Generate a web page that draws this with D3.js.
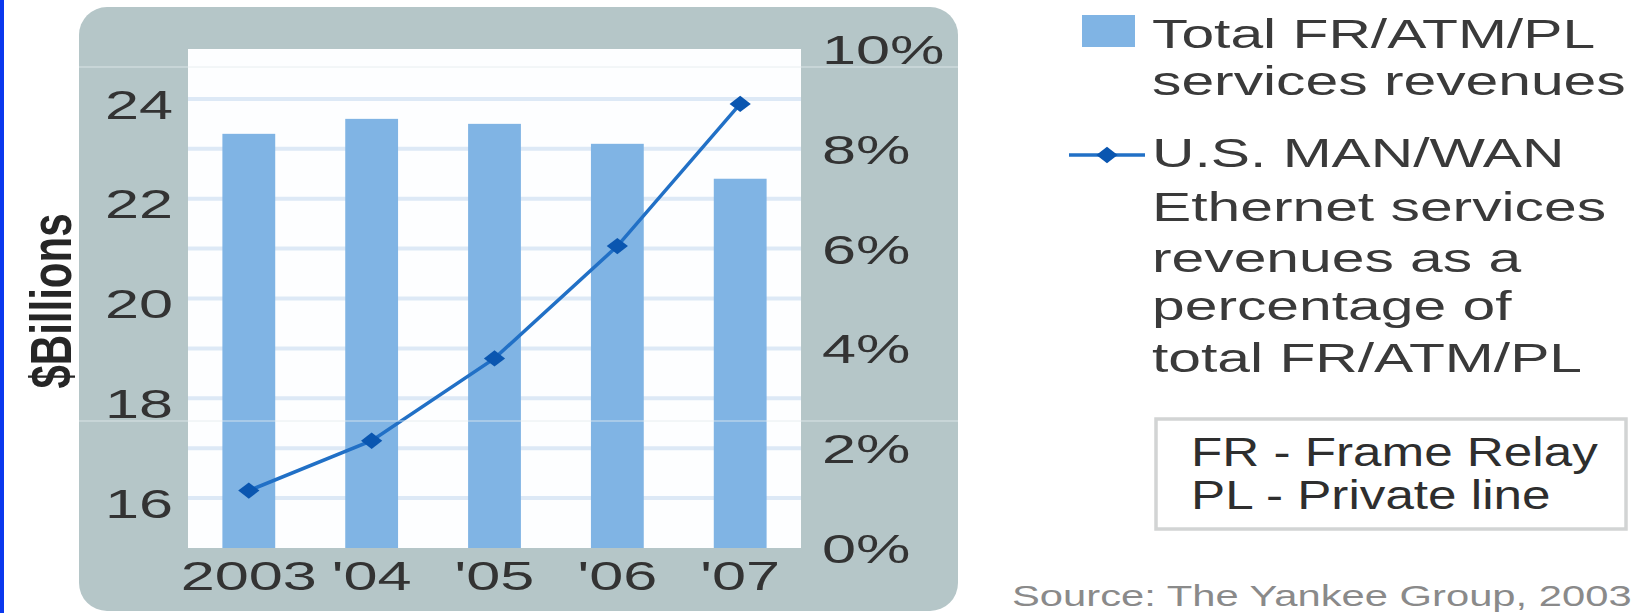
<!DOCTYPE html>
<html>
<head>
<meta charset="utf-8">
<script src="https://cdn.jsdelivr.net/npm/d3@7.9.0/dist/d3.min.js"></script>
<style>
  body { margin: 0; background: #fff; }
  svg { display: block; font-family: "Liberation Sans", Arial, sans-serif; }
</style>
</head>
<body>
<svg id="chart" width="1640" height="613"></svg>
<script>
// data
const years = ['2003', "'04", "'05", "'06", "'07"];
const revenues = [23.3, 23.6, 23.5, 23.1, 22.4];      // $Billions, bars
const ethernetPct = [1.15, 2.15, 3.8, 6.05, 8.9];      // % of total, line
const leftTicks = [16, 18, 20, 22, 24];
const rightTicks = [0, 2, 4, 6, 8, 10];
const barLegend = ['Total FR/ATM/PL', 'services revenues'];
const lineLegend = ['U.S. MAN/WAN', 'Ethernet services', 'revenues as a', 'percentage of', 'total FR/ATM/PL'];
const abbrevs = ['FR - Frame Relay', 'PL - Private line'];
const source = 'Source: The Yankee Group, 2003';

const barColor = '#80b4e4';
const lineColor = '#2170c6';
const markColor = '#0a56b0';
const panelColor = '#b5c6c8';
const textColor = '#333';
const sx = 1.53; // the original art is stretched sideways, so is the text

const svg = d3.select('#chart');

// blue strip on the left edge
svg.append('rect').attr('x', 0).attr('y', 0).attr('width', 4).attr('height', 613).attr('fill', '#0a38ee');

// grey rounded panel + white plot
svg.append('rect')
    .attr('x', 79).attr('y', 7).attr('width', 879).attr('height', 604)
    .attr('rx', 28).attr('fill', panelColor);

const plot = { left: 188, right: 801, top: 49, bottom: 548 };
svg.append('rect')
    .attr('x', plot.left).attr('y', plot.top)
    .attr('width', plot.right - plot.left).attr('height', plot.bottom - plot.top)
    .attr('fill', '#fdfeff');

// scales
const x = d3.scaleBand().domain(years).range([plot.left, plot.right])
    .paddingInner(0.57).paddingOuter(0.28);
const y = d3.scaleLinear().domain([15, 25]).range([plot.bottom, plot.top]);
const y2 = d3.scaleLinear().domain([0, 10]).range([plot.bottom, plot.top]);

// light blue gridlines every $1B
svg.append('g')
    .selectAll('line')
    .data(d3.range(16, 25))
    .join('line')
    .attr('x1', plot.left).attr('x2', plot.right)
    .attr('y1', d => y(d)).attr('y2', d => y(d))
    .attr('stroke', '#dde9f6').attr('stroke-width', 4);

// bars
svg.append('g')
    .selectAll('rect')
    .data(revenues)
    .join('rect')
    .attr('x', (d, i) => x(years[i]))
    .attr('y', d => y(d))
    .attr('width', x.bandwidth())
    .attr('height', d => plot.bottom - y(d))
    .attr('fill', barColor);

// line on the right axis
const cx = i => x(years[i]) + x.bandwidth() / 2;
const line = d3.line().x((d, i) => cx(i)).y(d => y2(d));
svg.append('path')
    .datum(ethernetPct)
    .attr('d', line)
    .attr('fill', 'none')
    .attr('stroke', lineColor)
    .attr('stroke-width', 3.5);

const marker = d3.symbol().type(d3.symbolDiamond2 || d3.symbolDiamond).size(170);
svg.append('g')
    .selectAll('path')
    .data(ethernetPct)
    .join('path')
    .attr('d', marker)
    .attr('transform', (d, i) => `translate(${cx(i)},${y2(d)}) scale(1.3,1)`)
    .attr('fill', markColor);

// faint scan seams across the panel
[67, 421].forEach(sy => {
    svg.append('line')
        .attr('x1', 79).attr('x2', 958).attr('y1', sy).attr('y2', sy)
        .attr('stroke', '#e4ecee').attr('stroke-width', 1).attr('opacity', 0.8);
});

// axes (no domain lines, no ticks, only labels)
function styleAxis(g, dy) {
    g.select('.domain').remove();
    g.selectAll('text')
        .attr('font-size', 40)
        .attr('fill', textColor)
        .attr('font-family', '"Liberation Sans", Arial, sans-serif')
        .attr('dy', dy)
        .attr('transform', `scale(${sx},1)`);
}

svg.append('g')
    .attr('transform', 'translate(173,0)')
    .call(d3.axisLeft(y).tickValues(leftTicks).tickSize(0).tickPadding(0))
    .call(g => styleAxis(g, '0.48em'));

svg.append('g')
    .attr('transform', 'translate(822,0)')
    .call(d3.axisRight(y2).tickValues(rightTicks).tickFormat(d => d + '%').tickSize(0).tickPadding(0))
    .call(g => styleAxis(g, '0.36em'));

svg.append('g')
    .attr('transform', 'translate(0,590)')
    .call(d3.axisBottom(x).tickSize(0).tickPadding(0))
    .call(g => styleAxis(g, '0'))
    .call(g => g.selectAll('text').attr('y', 0));

// y title, heavier than the tick labels
svg.append('text')
    .attr('transform', `translate(52,301) scale(1.35,1) rotate(-90)`)
    .attr('text-anchor', 'middle')
    .attr('dominant-baseline', 'central')
    .attr('font-size', 42)
    .attr('font-weight', 'bold')
    .attr('fill', '#262626')
    .text('$Billions');

// legend
function addLines(lines, x0, baselines, size, stretch, color) {
    lines.forEach((t, i) => {
        svg.append('text')
            .attr('transform', `translate(${x0},${baselines[i]}) scale(${stretch},1)`)
            .attr('font-size', size)
            .attr('fill', color)
            .text(t);
    });
}

svg.append('rect')
    .attr('x', 1082).attr('y', 15).attr('width', 53).attr('height', 32)
    .attr('fill', barColor);
addLines(barLegend, 1152, [48, 95], 40, 1.47, '#3a3a3a');

svg.append('line')
    .attr('x1', 1069).attr('x2', 1145).attr('y1', 155).attr('y2', 155)
    .attr('stroke', lineColor).attr('stroke-width', 3.5);
svg.append('path')
    .attr('d', marker)
    .attr('transform', 'translate(1107,155) scale(1.3,1)')
    .attr('fill', markColor);
addLines(lineLegend, 1152, [167, 221, 272, 320, 372], 40, 1.47, '#3a3a3a');

// abbreviation box
svg.append('rect')
    .attr('x', 1156).attr('y', 419).attr('width', 470).attr('height', 110)
    .attr('fill', '#fff')
    .attr('stroke', '#d2d4d4').attr('stroke-width', 3.5);
addLines(abbrevs, 1191, [466, 509], 40, 1.28, '#2e2e2e');

// source line at the bottom right
addLines([source], 1012, [606], 29, 1.44, '#8a8a8a');
</script>
</body>
</html>
